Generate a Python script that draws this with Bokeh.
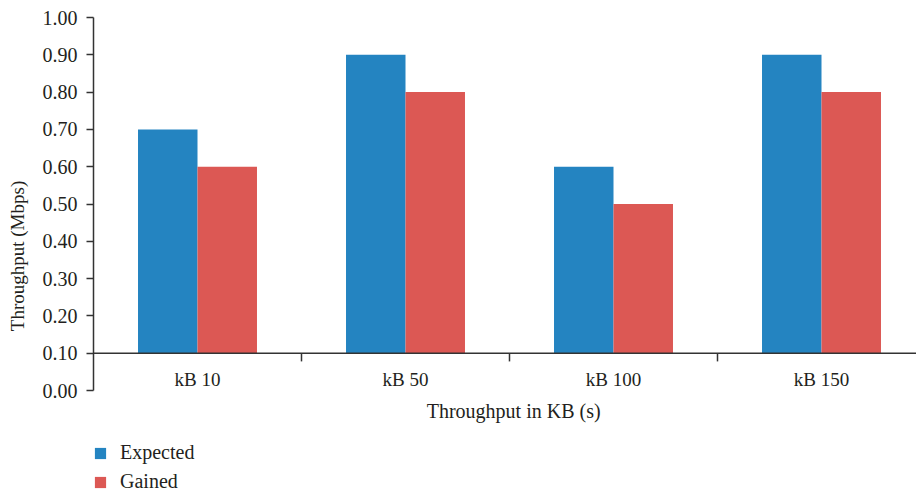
import numpy as np
from bokeh.plotting import figure
from bokeh.models import Range1d, Legend, LegendItem, Label, Span, FixedTicker, NumeralTickFormatter
from bokeh.core.properties import value
from bokeh.embed import file_html
from bokeh.resources import INLINE

categories = ["kB 10", "kB 50", "kB 100", "kB 150"]
expected = [0.70, 0.90, 0.60, 0.90]
gained = [0.60, 0.80, 0.50, 0.80]
baseline = 0.10
y_ticks = [0.00, 0.10, 0.20, 0.30, 0.40, 0.50, 0.60, 0.70, 0.80, 0.90, 1.00]
series_names = ["Expected", "Gained"]
colors = ["#2484c1", "#dc5854"]

FONT = "'Liberation Serif', 'Times New Roman', serif"
TXT = "#231f20"
AX = "#333333"

centers = np.arange(len(categories)) + 0.5
bar_w = 0.286
seps = np.arange(1, len(categories))

# frame: left 93, top 17, value 0 at 390, canvas bottom 494
px_per_unit = 373.0
ymin = -(494 - 390) / px_per_unit

p = figure(width=916, height=494, output_backend="svg", toolbar_location=None,
           x_range=Range1d(0, 823 / 208), y_range=Range1d(ymin, 1.0),
           min_border_left=93, min_border_right=0, min_border_top=17, min_border_bottom=0)
p.outline_line_color = None
p.xgrid.visible = False
p.ygrid.visible = False
p.xaxis.visible = False

r1 = p.vbar(x=centers - bar_w / 2, top=expected, bottom=baseline, width=bar_w,
            fill_color=colors[0], line_color=None)
r2 = p.vbar(x=centers + bar_w / 2, top=gained, bottom=baseline, width=bar_w,
            fill_color=colors[1], line_color=None)

# x axis line at baseline
p.add_layout(Span(location=baseline, dimension="width", line_color=AX, line_width=1.5))
p.segment(x0=seps, y0=baseline, x1=seps, y1=baseline - 0.022, line_color=AX, line_width=1.5)
p.text(x=centers, y=0.029, text=categories, text_align="center", text_baseline="alphabetic",
       text_font=value(FONT), text_font_size="19px", text_color=TXT)

p.add_layout(Label(x=2.02, y=-0.056, text="Throughput in KB (s)", text_align="center",
                   text_baseline="alphabetic", text_font=FONT, text_font_size="20px",
                   text_color=TXT))

ya = p.yaxis[0]
ya.bounds = (0, 1)
ya.ticker = FixedTicker(ticks=y_ticks)
ya.formatter = NumeralTickFormatter(format="0.00")
ya.axis_line_color = AX
ya.axis_line_width = 1.5
ya.major_tick_line_color = AX
ya.major_tick_line_width = 1.5
ya.major_tick_out = 7
ya.major_tick_in = 0
ya.minor_tick_line_color = None
ya.major_label_standoff = 9
ya.major_label_text_font = FONT
ya.major_label_text_font_size = "20px"
ya.major_label_text_color = TXT
ya.axis_label = "Throughput (Mbps)"
ya.axis_label_text_font = FONT
ya.axis_label_text_font_size = "19px"
ya.axis_label_text_font_style = "normal"
ya.axis_label_text_color = TXT
ya.axis_label_standoff = 12

legend = Legend(items=[LegendItem(label=series_names[0], renderers=[r1]),
                       LegendItem(label=series_names[1], renderers=[r2])],
                location=(0, 1), orientation="vertical",
                glyph_width=14, glyph_height=14, label_standoff=13,
                label_height=20, spacing=6, padding=0, margin=0,
                label_text_font=FONT, label_text_font_size="20px", label_text_color=TXT,
                border_line_color=None, background_fill_alpha=0)
p.add_layout(legend)

open("out.html", "w").write(file_html(p, INLINE))
